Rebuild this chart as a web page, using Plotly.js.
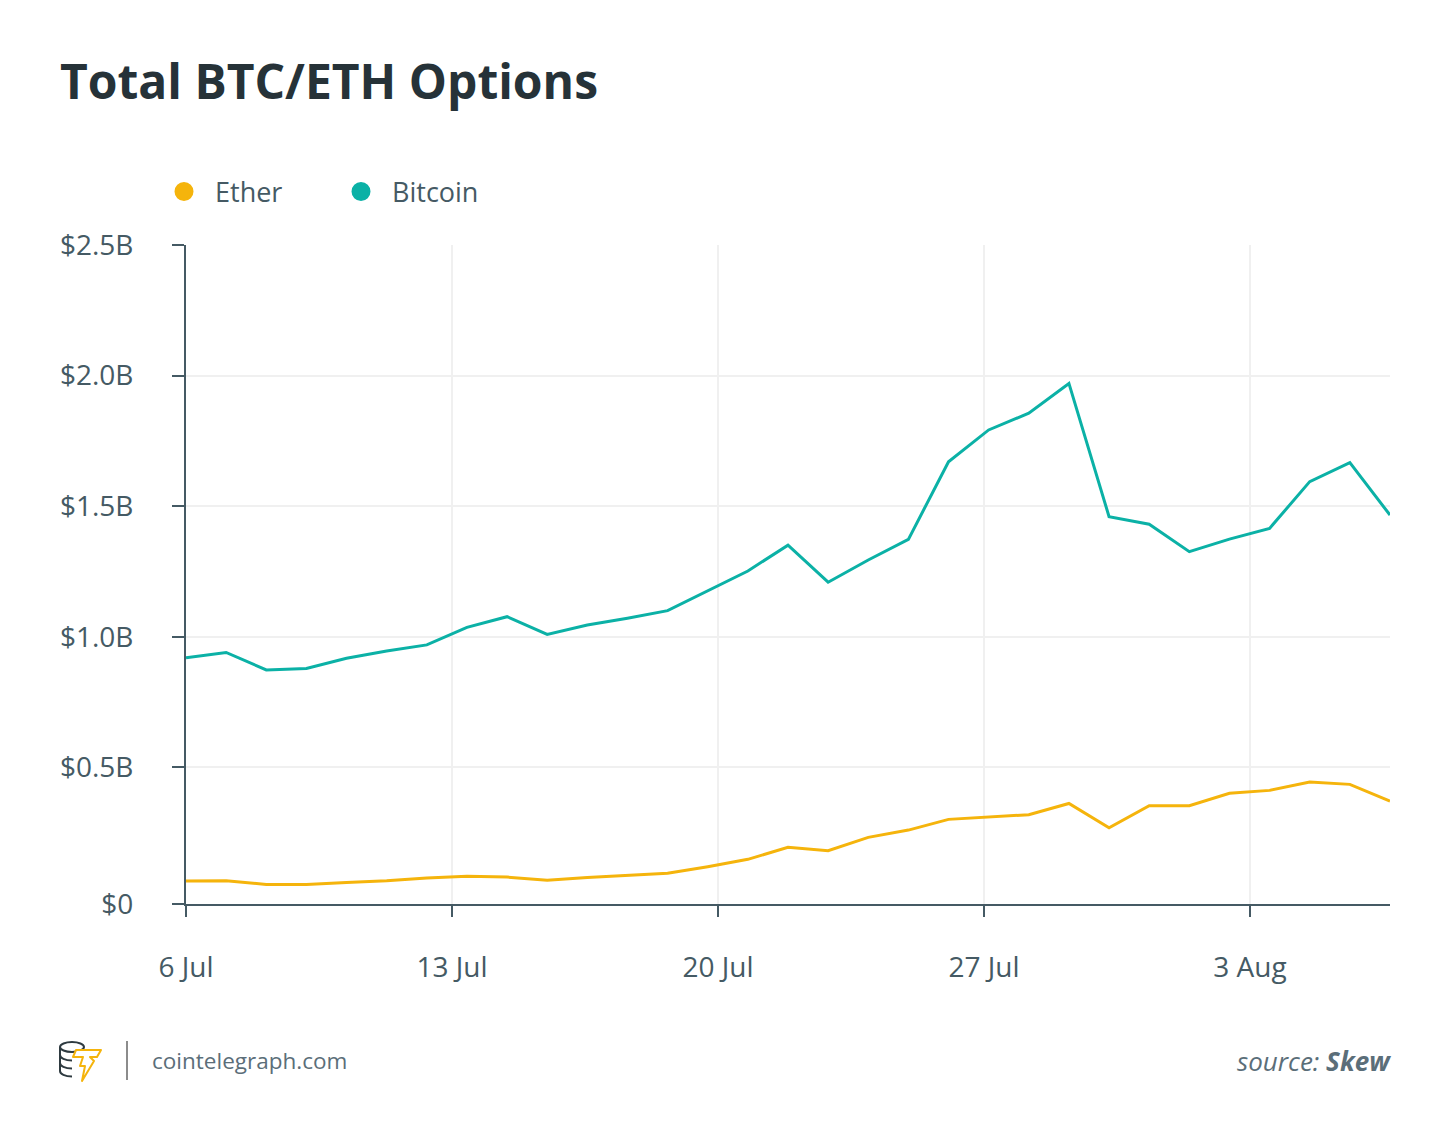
<!DOCTYPE html>
<html>
<head>
<meta charset="utf-8">
<script src="https://cdn.plot.ly/plotly-3.0.1.min.js"></script>
<style>
  html, body { margin: 0; padding: 0; background: #ffffff; }
  #chart { width: 1450px; height: 1141px; }
</style>
</head>
<body>
<div id="chart"></div>
<script>
// ---- data (values in billions of USD) ----
const xDates = [
  '2020-07-06 00:00','2020-07-07 01:21','2020-07-08 02:42','2020-07-09 04:02','2020-07-10 05:23',
  '2020-07-11 06:44','2020-07-12 08:05','2020-07-13 09:26','2020-07-14 10:47','2020-07-15 12:07',
  '2020-07-16 13:28','2020-07-17 14:49','2020-07-18 16:10','2020-07-19 17:31','2020-07-20 18:52',
  '2020-07-21 20:12','2020-07-22 21:33','2020-07-23 22:54','2020-07-25 00:15','2020-07-26 01:35',
  '2020-07-27 02:56','2020-07-28 04:17','2020-07-29 05:38','2020-07-30 06:59','2020-07-31 08:20',
  '2020-08-01 09:41','2020-08-02 11:01','2020-08-03 12:22','2020-08-04 13:43','2020-08-05 15:04',
  '2020-08-06 16:25'
];
const bitcoin = [0.920,0.940,0.873,0.879,0.918,0.946,0.969,1.036,1.077,1.009,
                 1.045,1.071,1.100,1.177,1.252,1.351,1.209,1.294,1.373,1.670,
                 1.792,1.856,1.970,1.460,1.431,1.326,1.374,1.415,1.594,1.667,
                 1.466];
const ether = [0.065,0.066,0.052,0.052,0.059,0.066,0.077,0.083,0.080,0.068,
               0.078,0.087,0.095,0.120,0.148,0.194,0.181,0.232,0.260,0.301,
               0.310,0.319,0.362,0.269,0.353,0.353,0.401,0.412,0.444,0.435,
               0.371];
const seriesNames = ['Ether', 'Bitcoin'];
// the reference draws its "$0" label on the (slightly offset) x-axis line
const yAxisFloor = -0.023;
const yTickVals = [yAxisFloor, 0.5, 1.0, 1.5, 2.0, 2.5];
const yTickText = ['$0', '$0.5B', '$1.0B', '$1.5B', '$2.0B', '$2.5B'];
const xTick0 = '2020-07-06';

// ---- styles ----
const ETH_COLOR = '#F5B40C';
const BTC_COLOR = '#0BB1A6';
const TEXT_COLOR = '#455A64';
const AXIS_COLOR = '#455A64';
const GRID_COLOR = '#F0F0F0';
const FONT = '"Open Sans", "Noto Sans", sans-serif';

const traces = [
  { x: xDates, y: ether, name: seriesNames[0], type: 'scatter', mode: 'lines',
    line: { color: ETH_COLOR, width: 3 }, showlegend: false },
  { x: xDates, y: bitcoin, name: seriesNames[1], type: 'scatter', mode: 'lines',
    line: { color: BTC_COLOR, width: 3 }, showlegend: false },
  // legend entries (dots)
  { x: [null], y: [null], name: seriesNames[0], type: 'scatter', mode: 'markers',
    marker: { color: ETH_COLOR, size: 20, line: { color: ETH_COLOR, width: 3 } }, showlegend: true },
  { x: [null], y: [null], name: seriesNames[1], type: 'scatter', mode: 'markers',
    marker: { color: BTC_COLOR, size: 20, line: { color: BTC_COLOR, width: 3 } }, showlegend: true }
];

const logoSvg =
  "<svg xmlns='http://www.w3.org/2000/svg' width='46' height='44' viewBox='0 0 46 44'>" +
  "<g fill='none' stroke='#2E3A40' stroke-width='2'>" +
  "<ellipse cx='14' cy='8' rx='12' ry='5'/>" +
  "<path d='M2 8 V32 C2 35 7 37.5 14 37.5'/>" +
  "<path d='M2 16 C2 19 7 21.5 14 21.5'/>" +
  "<path d='M2 24 C2 27 7 29.5 14 29.5'/>" +
  "</g>" +
  "<path d='M18 11 H43 L39 18 H32 L36 22 L24 42 L27 27 H22 L25 18 H15 Z' fill='#ffffff' stroke='#F5B40C' stroke-width='2' stroke-linejoin='round'/>" +
  "</svg>";

const L = 186, R = 1390, T = 245, B = 904;
const W = R - L, H = B - T;
const px = v => (v - L) / W;
const py = v => (B - v) / H;

const layout = {
  width: 1450, height: 1141,
  paper_bgcolor: '#ffffff', plot_bgcolor: '#ffffff',
  margin: { l: L, r: 1450 - R, t: T, b: 1141 - B, pad: 0 },
  font: { family: FONT, color: TEXT_COLOR, size: 28 },
  title: {
    text: '<b>Total BTC/ETH Options</b>',
    font: { family: FONT, size: 48, color: '#263238' },
    xref: 'container', yref: 'container',
    x: 60 / 1450, xanchor: 'left',
    y: 1 - 82 / 1141, yanchor: 'middle'
  },
  showlegend: true,
  legend: {
    orientation: 'h',
    xref: 'container', yref: 'container',
    x: 153 / 1450, xanchor: 'left',
    y: 1 - 192 / 1141, yanchor: 'middle',
    font: { family: FONT, size: 27, color: TEXT_COLOR },
    itemsizing: 'trace',
    itemwidth: 52,
    entrywidth: 110,
    bgcolor: 'rgba(0,0,0,0)'
  },
  xaxis: {
    type: 'date',
    range: [xDates[0], xDates[xDates.length - 1]],
    tick0: xTick0, dtick: 7 * 24 * 3600 * 1000,
    tickformat: '%-d %b',
    showgrid: true, gridcolor: GRID_COLOR, gridwidth: 2,
    showline: true, linecolor: AXIS_COLOR, linewidth: 2,
    ticks: 'outside', ticklen: 11, tickwidth: 2, tickcolor: AXIS_COLOR,
    ticklabelstandoff: 26,
    tickfont: { family: FONT, size: 28, color: TEXT_COLOR },
    zeroline: false, fixedrange: true
  },
  yaxis: {
    range: [yAxisFloor, 2.5],
    tickvals: yTickVals, ticktext: yTickText,
    showgrid: true, gridcolor: GRID_COLOR, gridwidth: 2,
    showline: true, linecolor: AXIS_COLOR, linewidth: 2,
    ticks: 'outside', ticklen: 12, tickwidth: 2, tickcolor: AXIS_COLOR,
    ticklabelstandoff: 33,
    tickfont: { family: FONT, size: 28, color: TEXT_COLOR },
    zeroline: false, fixedrange: true
  },
  shapes: [
    { type: 'line', xref: 'paper', yref: 'paper',
      x0: px(127), x1: px(127), y0: py(1041), y1: py(1080),
      line: { color: '#8C8C8C', width: 2 } }
  ],
  images: [
    { source: 'data:image/svg+xml;charset=utf-8,' + encodeURIComponent(logoSvg),
      xref: 'paper', yref: 'paper', x: px(58), y: py(1039),
      sizex: 46 / W, sizey: 44 / H, xanchor: 'left', yanchor: 'top',
      sizing: 'stretch', layer: 'above' }
  ],
  annotations: [
    { text: 'cointelegraph.com', xref: 'paper', yref: 'paper',
      x: px(150), y: py(1060), xanchor: 'left', yanchor: 'middle',
      showarrow: false, font: { family: FONT, size: 22.5, color: '#5B6E79' } },
    { text: '<i>source: </i><b><i>Skew</i></b>', xref: 'paper', yref: 'paper',
      x: px(1393), y: py(1061), xanchor: 'right', yanchor: 'middle',
      showarrow: false, font: { family: FONT, size: 26, color: '#5B6E79' } }
  ],
  hovermode: false
};

Plotly.newPlot('chart', traces, layout, { displayModeBar: false, staticPlot: true });
</script>
</body>
</html>
